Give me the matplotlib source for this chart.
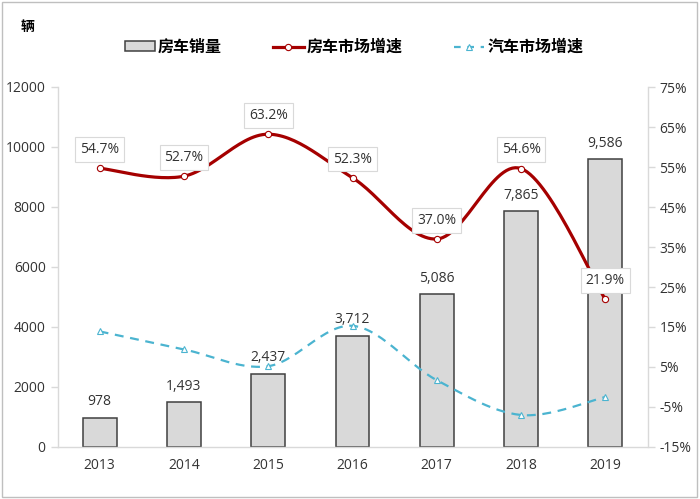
import numpy as np
import matplotlib
matplotlib.use("Agg")
import matplotlib.pyplot as plt
from matplotlib.patches import Rectangle, Patch
from matplotlib.lines import Line2D

plt.rcParams['font.family'] = ['Open Sans', 'Noto Sans CJK SC', 'DejaVu Sans']

years = ['2013', '2014', '2015', '2016', '2017', '2018', '2019']
rv_sales = [978, 1493, 2437, 3712, 5086, 7865, 9586]
rv_growth = [54.7, 52.7, 63.2, 52.3, 37.0, 54.6, 21.9]
car_growth = [13.9, 9.4, 5.2, 15.3, 1.7, -7.0, -2.5]
left_ticks = [0, 2000, 4000, 6000, 8000, 10000, 12000]
right_ticks = [-15, -5, 5, 15, 25, 35, 45, 55, 65, 75]
legend_labels = ['房车销量', '房车市场增速', '汽车市场增速']


def catmull_rom(x, y, n=30):
    x = np.asarray(x, float)
    y = np.asarray(y, float)
    px = np.concatenate([[x[0]], x, [x[-1]]])
    py = np.concatenate([[y[0]], y, [y[-1]]])
    xs, ys = [], []
    for i in range(1, len(px) - 2):
        p0, p1, p2, p3 = (np.array([px[j], py[j]]) for j in (i - 1, i, i + 1, i + 2))
        c1 = p1 + (p2 - p0) / 6.0
        c2 = p2 - (p3 - p1) / 6.0
        t = np.linspace(0, 1, n)[:, None]
        b = ((1 - t) ** 3) * p1 + 3 * ((1 - t) ** 2) * t * c1 + 3 * (1 - t) * t ** 2 * c2 + t ** 3 * p2
        xs.append(b[:, 0])
        ys.append(b[:, 1])
    return np.concatenate(xs), np.concatenate(ys)


fig = plt.figure(figsize=(7.0, 4.99), dpi=100)
ax = fig.add_axes([57.5 / 700, 1 - 447 / 499, 590 / 700, 360 / 499])
ax2 = ax.twinx()

x = np.arange(len(years))
grid_col = '#D9D9D9'
txt_col = '#333333'

bars = ax.bar(x, rv_sales, width=0.4, color='#D9D9D9', edgecolor='#404040', linewidth=1.1, zorder=2)
for xi, v in zip(x, rv_sales):
    ax.annotate(f"{v:,}", (xi, v), xytext=(0, 11.5), textcoords='offset points',
                ha='center', va='center', fontsize=10, color=txt_col)

ax.set_xlim(-0.5, len(years) - 0.5)
ax.set_ylim(0, 12000)
ax.set_yticks(left_ticks)
ax.set_yticklabels([str(t) for t in left_ticks])
ax.set_xticks(x)
ax.set_xticklabels(years)

ax2.set_ylim(-15, 75)
ax2.set_yticks(right_ticks)
ax2.set_yticklabels([f"{t}%" for t in right_ticks])

for a in (ax, ax2):
    for s in ('top',):
        a.spines[s].set_visible(False)
    for s in ('left', 'right', 'bottom'):
        a.spines[s].set_color(grid_col)
        a.spines[s].set_linewidth(1.0)
    a.tick_params(axis='y', colors=grid_col, length=5, width=1, labelsize=10, labelcolor=txt_col)
    a.tick_params(axis='x', length=0, labelsize=10, labelcolor=txt_col, pad=8)
ax.spines['right'].set_visible(False)
ax2.spines['left'].set_visible(False)
ax2.spines['bottom'].set_visible(False)

red = '#A50000'
blue = '#4BB4D0'
sx, sy = catmull_rom(x, rv_growth)
ax2.plot(sx, sy, color=red, linewidth=2.3, zorder=3)
ax2.plot(x, rv_growth, linestyle='none', marker='o', markersize=4.5,
         markerfacecolor='white', markeredgecolor=red, markeredgewidth=0.8, zorder=4)

cx, cy = catmull_rom(x, car_growth)
ax2.plot(cx, cy, color=blue, linewidth=1.6, linestyle=(0, (4, 3)), zorder=3)
ax2.plot(x, car_growth, linestyle='none', marker='^', markersize=4.5,
         markerfacecolor='white', markeredgecolor=blue, markeredgewidth=0.8, zorder=4)

for xi, v in zip(x, rv_growth):
    ax2.annotate(f"{v:.1f}%", (xi, v), xytext=(0, 13.5), textcoords='offset points',
                 ha='center', va='center', fontsize=10, color=txt_col, zorder=6,
                 bbox=dict(boxstyle='square,pad=0.35', facecolor='white', edgecolor='#D9D9D9', linewidth=0.8))

fig.text(28 / 700, 1 - 27 / 499, '辆', fontsize=10, fontweight='bold', ha='center', va='center',
         color='#000000')

handles = [
    Patch(facecolor='#D9D9D9', edgecolor='#404040', linewidth=1.1),
    Line2D([0], [0], color=red, linewidth=2.3, marker='o', markersize=4.5,
           markerfacecolor='white', markeredgecolor=red, markeredgewidth=0.8),
    Line2D([0], [0], color=blue, linewidth=1.6, linestyle=(0, (3, 3)), marker='^', markersize=4.5,
           markerfacecolor='white', markeredgecolor=blue, markeredgewidth=0.8),
]
leg = fig.legend(handles, legend_labels, loc='center', bbox_to_anchor=(354 / 700, 1 - 47 / 499), ncol=3,
                 frameon=False, handlelength=1.9, handleheight=0.6, handletextpad=0.2, columnspacing=3.2,
                 prop={'size': 11.5, 'weight': 'bold', 'family': ['Noto Sans CJK SC', 'DejaVu Sans']})

fig.patches.append(Rectangle((2 / 700, 2 / 499), 695 / 700, 495 / 499, transform=fig.transFigure,
                             fill=False, edgecolor='#BFBFBF', linewidth=1.0))

fig.savefig('out.png', dpi=100)
